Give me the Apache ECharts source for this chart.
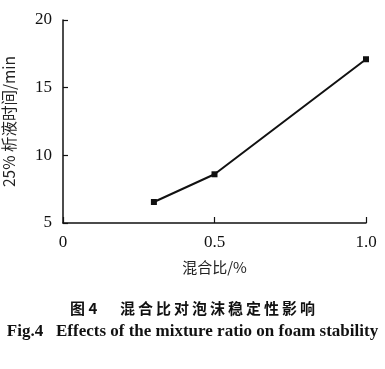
<!DOCTYPE html>
<html><head><meta charset="utf-8">
<script src="https://cdn.jsdelivr.net/npm/echarts@6/dist/echarts.min.js"></script>
<style>html,body{margin:0;padding:0;background:#fff}#c{width:385px;height:369px}</style>
</head><body><div id="c"></div>
<script>
const ratios = [0.3, 0.5, 1.0];
const drainTimes = [6.55, 8.6, 17.1];
const xTicks = [0, 0.5, 1.0];
const yTicks = [5, 10, 15, 20];
const xName = '混合比/%';
const yName = '25% 析液时间/min';
const captionCn = '图 4\u2003\u2002混\u2009合\u2009比\u2009对\u2009泡\u2009沫\u2009稳\u2009定\u2009性\u2009影\u2009响';
const captionEn = 'Fig.4   Effects of the mixture ratio on foam stability';

const chart = echarts.init(document.getElementById('c'), null, {renderer: 'canvas'});
const serif = '"Liberation Serif","DejaVu Serif",serif';
const cjk = '"Noto Sans CJK SC",sans-serif';
chart.setOption({
  animation: false,
  backgroundColor: '#fff',
  grid: {left: 63, right: 19, top: 20, bottom: 146, containLabel: false, outerBoundsMode: 'none'},
  title: [
    {text: captionCn, left: 'center', top: 296, textStyle: {fontFamily: cjk, fontSize: 15, fontWeight: 'bold', color: '#111'}},
    {text: captionEn, left: 'center', top: 318, textStyle: {fontFamily: serif, fontSize: 17, fontWeight: 'bold', color: '#111'}}
  ],
  xAxis: {
    type: 'value', min: xTicks[0], max: xTicks[xTicks.length-1], interval: 0.5,
    name: xName, nameLocation: 'middle', nameGap: 37,
    nameTextStyle: {fontFamily: cjk, fontSize: 15, color: '#222'},
    axisLine: {lineStyle: {color: '#111', width: 1.5}},
    axisTick: {inside: true, length: 6, lineStyle: {color: '#111', width: 1.2}},
    axisLabel: {fontFamily: serif, fontSize: 17, color: '#111', margin: 11,
      formatter: v => v === 0 ? '0' : v.toFixed(1)},
    splitLine: {show: false}
  },
  yAxis: {
    type: 'value', min: yTicks[0], max: yTicks[yTicks.length-1], interval: 5,
    name: yName, nameLocation: 'middle', nameGap: 46, nameRotate: 90,
    nameTextStyle: {fontFamily: cjk, fontSize: 15.5, color: '#222'},
    axisLine: {show: true, lineStyle: {color: '#111', width: 1.5}},
    axisTick: {show: true, inside: true, length: 5, lineStyle: {color: '#111', width: 1.2}},
    axisLabel: {fontFamily: serif, fontSize: 17, color: '#111', margin: 11},
    splitLine: {show: false}
  },
  series: [{
    type: 'line',
    data: ratios.map((r, i) => [r, drainTimes[i]]),
    symbol: 'rect', symbolSize: 6,
    lineStyle: {color: '#111', width: 2},
    itemStyle: {color: '#111'}
  }]
});
</script></body></html>
